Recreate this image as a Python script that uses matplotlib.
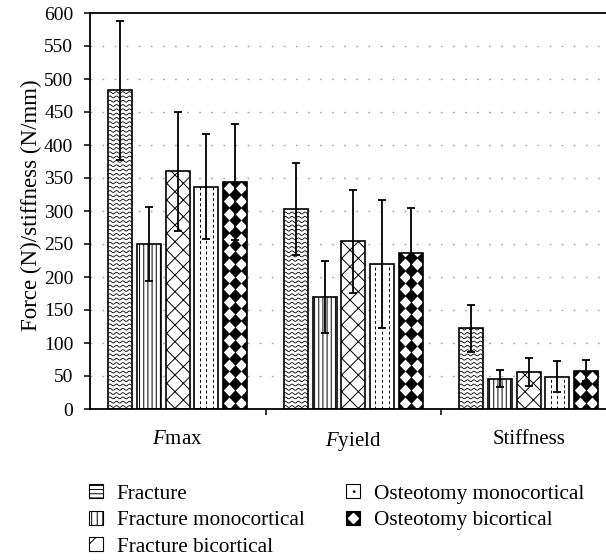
import matplotlib
matplotlib.use('Agg')
import matplotlib.pyplot as plt
import numpy as np
from matplotlib.patches import Patch
from matplotlib.lines import Line2D
from matplotlib.collections import LineCollection

plt.rcParams['font.family'] = ['Liberation Serif', 'DejaVu Serif']
plt.rcParams['mathtext.fontset'] = 'custom'
plt.rcParams['mathtext.rm'] = 'Liberation Serif'
plt.rcParams['mathtext.it'] = 'Liberation Serif:italic'
plt.rcParams['hatch.linewidth'] = 0.7

# ---------------- data ----------------
groups = ['$F$max', '$F$yield', 'Stiffness']
series = ['Fracture', 'Fracture monocortical', 'Fracture bicortical',
          'Osteotomy monocortical', 'Osteotomy bicortical']
fracture = [483, 303, 122]
fracture_err = [105, 69, 35]
fracture_mono = [250, 170, 46]
fracture_mono_err = [56, 55, 13]
fracture_bi = [360, 254, 56]
fracture_bi_err = [90, 78, 21]
osteo_mono = [337, 219, 49]
osteo_mono_err = [80, 97, 23]
osteo_bi = [344, 237, 58]
osteo_bi_err = [88, 68, 16]
yticks = list(range(0, 601, 50))

values = [fracture, fracture_mono, fracture_bi, osteo_mono, osteo_bi]
errors = [fracture_err, fracture_mono_err, fracture_bi_err, osteo_mono_err, osteo_bi_err]

# ---------------- figure ----------------
fig = plt.figure(figsize=(6.06, 5.6), dpi=100)
ax = fig.add_axes([90/606, 151/560, (606-90)/606, (409-13)/560])
ax.set_xlim(-0.5, 2.44)
ax.set_ylim(0, 600)

# pixel -> data conversion helpers (for textures)
inv = ax.transData.inverted()
p0 = ax.transData.transform((0, 0))
px_x = inv.transform(p0 + np.array([1, 0]))[0] - inv.transform(p0)[0]
px_y = inv.transform(p0 + np.array([0, 1]))[1] - inv.transform(p0)[1]

x = np.arange(len(groups))
step = 0.1635
width = 0.137
hatches = [None, '||||', 'xx', None, None]
faces = ['white', 'white', 'white', 'white', 'black']

containers = []
for i, (vals, errs) in enumerate(zip(values, errors)):
    pos = x + (i - 2) * step
    bc = ax.bar(pos, vals, width=width, facecolor=faces[i], edgecolor='black',
                hatch=hatches[i], linewidth=0, zorder=2)
    containers.append(bc)
    ax.bar(pos, vals, width=width, fill=False, edgecolor='black',
           linewidth=1.2, zorder=3)
    ax.errorbar(pos, vals, yerr=errs, fmt='none', ecolor='black',
                elinewidth=1.3, capsize=3, capthick=1.3, zorder=4)

# wavy horizontal texture for fracture
for rect in containers[0]:
    x0, w, h = rect.get_x(), rect.get_width(), rect.get_height()
    xx = np.linspace(x0, x0 + w, 80)
    wave = 0.9 * px_y * np.sin(2 * np.pi * (xx - x0) / (6.5 * px_x))
    segs = []
    lvl = 2.5 * px_y
    while lvl < h:
        segs.append(np.column_stack([xx, lvl + wave]))
        lvl += 4.3 * px_y
    lc = LineCollection(segs, colors='black', linewidths=0.6, zorder=2.2)
    ax.add_collection(lc)
    lc.set_clip_path(rect)

# dashed vertical texture for osteotomy monocortical
for rect in containers[3]:
    x0, w, h = rect.get_x(), rect.get_width(), rect.get_height()
    xs = x0 + w * np.array([0.22, 0.5, 0.78])
    lc = ax.vlines(xs, 0, h, colors='black', linewidth=0.7,
                   linestyles=(0, (3, 2.5)), zorder=2.2)
    lc.set_clip_path(rect)

# diamond texture for osteotomy bicortical
row_step = 12.6 * px_y
diamond = [(0, 1), (0.95, 0), (0, -1), (-0.95, 0), (0, 1)]
for rect in containers[4]:
    x0, w, h = rect.get_x(), rect.get_width(), rect.get_height()
    nrows = int(h / row_step) + 2
    xs_all, ys_all = [], []
    for k in range(nrows):
        for f in [0.25, 0.75]:
            xs_all.append(x0 + w * f)
            ys_all.append(k * row_step + row_step * 0.5)
    sc = ax.scatter(xs_all, ys_all, marker=diamond, s=8.6**2, c='white',
                    linewidths=0, zorder=2.5)
    sc.set_clip_path(rect)

# grid
for yv in yticks[1:-1]:
    ax.axhline(yv, color='#a0a0a0', linewidth=1.0, linestyle=(0, (1.2, 7.5)), zorder=1)

# axes styling
ax.spines['right'].set_visible(False)
for s in ['left', 'bottom', 'top']:
    ax.spines[s].set_linewidth(1.3)
ax.set_yticks(yticks)
ax.tick_params(axis='y', direction='out', length=4, width=1.1, pad=8, labelsize=14)
ax.set_xticks(x)
ax.set_xticklabels(groups)
ax.tick_params(axis='x', which='major', length=0, pad=15, labelsize=15)
ax.set_xticks([0.5, 1.5], minor=True)
ax.tick_params(axis='x', which='minor', direction='out', length=4, width=1.1)

fig.text(31/606, 1 - 205/560, 'Force (N)/stiffness (N/mm)', rotation=90,
         ha='center', va='center', fontsize=16.5)

# legend
handles = [
    Patch(facecolor='white', edgecolor='black', hatch='----', linewidth=0.8),
    Patch(facecolor='white', edgecolor='black', hatch='|||', linewidth=0.8),
    Patch(facecolor='white', edgecolor='black', hatch='x', linewidth=0.8),
    Patch(facecolor='white', edgecolor='black', hatch='..', linewidth=0.8),
    (Patch(facecolor='black', edgecolor='black', linewidth=0.8),
     Line2D([], [], marker='D', color='white', markersize=5, linestyle='')),
]
fig.legend(handles, series, ncol=2, loc='upper left',
           bbox_to_anchor=(89/606, 1 - 484/560), frameon=False, fontsize=15.3,
           handlelength=0.65, handleheight=0.65, handletextpad=0.65,
           columnspacing=1.95, labelspacing=0.33, borderpad=0, borderaxespad=0)

fig.savefig('out.png', dpi=100)
